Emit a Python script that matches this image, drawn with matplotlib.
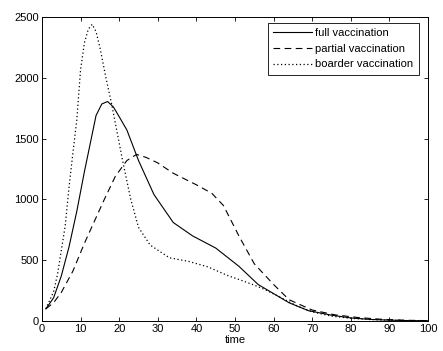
"""Epidemic curves under three vaccination strategies."""

import matplotlib.pyplot as plt

plt.rcParams["font.family"] = ["Liberation Sans", "DejaVu Sans"]

# values
full_t = [1, 3, 5, 7, 9, 11, 12.5, 14, 15.5, 17, 18.5, 20, 22, 25, 29, 34,
          39, 45, 51, 56, 60, 64, 69, 75, 80, 85, 90, 95, 100]
full_y = [100, 190, 370, 610, 900, 1230, 1460, 1690, 1785, 1805, 1760, 1680,
          1570, 1320, 1040, 810, 700, 600, 450, 300, 225, 150, 85, 48, 25, 13,
          7, 3, 2]

partial_t = [1, 3, 5, 8, 11, 13, 16, 19, 22, 24.5, 27, 30, 34, 40, 44, 47,
             51, 55, 60, 64, 70, 76, 82, 88, 94, 100]
partial_y = [100, 150, 235, 410, 640, 780, 990, 1190, 1320, 1370, 1345, 1300,
             1215, 1120, 1050, 950, 700, 470, 300, 175, 90, 50, 28, 14, 6, 3]

border_t = [1, 3, 4, 5, 6, 7, 8, 9, 10, 11, 12, 13, 14, 15, 16.5, 18, 19.5,
            21, 23, 25, 28, 33, 38, 43, 48, 52, 55, 58, 62, 66, 70, 75, 80,
            85, 90, 95, 100]
border_y = [100, 240, 380, 580, 780, 1100, 1380, 1650, 2070, 2290, 2400, 2440,
            2380, 2250, 2010, 1790, 1545, 1300, 1000, 770, 625, 520, 490, 445,
            375, 330, 295, 255, 190, 125, 75, 40, 22, 12, 7, 3, 2]

labels = ["full vaccination", "partial vaccination", "boarder vaccination"]
x_ticks = list(range(0, 101, 10))
y_ticks = list(range(0, 2501, 500))


def main():
    fig = plt.figure(figsize=(4.43, 3.51), dpi=100)
    ax = fig.add_axes([0.0948, 0.0855, 0.8714, 0.866])

    ax.plot(full_t, full_y, color="black", linestyle="-", linewidth=0.8,
            label=labels[0])
    ax.plot(partial_t, partial_y, color="black", linestyle=(0, (6, 4)),
            linewidth=0.8, label=labels[1])
    ax.plot(border_t, border_y, color="black", linestyle=(0, (1, 2)),
            linewidth=0.9, label=labels[2])

    ax.set_xlim(0, 100)
    ax.set_ylim(0, 2500)
    ax.set_xticks(x_ticks)
    ax.set_yticks(y_ticks)
    ax.tick_params(direction="in", top=True, right=True, labelsize=8,
                   length=3, width=0.6, pad=2)
    for spine in ax.spines.values():
        spine.set_linewidth(0.7)
    ax.set_xlabel("time", fontsize=8, labelpad=1)

    leg = ax.legend(loc="upper right", bbox_to_anchor=(0.9767, 0.981),
                    borderaxespad=0, fontsize=8, handlelength=3.5,
                    handletextpad=0.3, labelspacing=0.5, borderpad=0.5,
                    fancybox=False, framealpha=1)
    leg.get_frame().set_edgecolor("black")
    leg.get_frame().set_linewidth(0.6)

    fig.savefig("out.png", dpi=100)


if __name__ == "__main__":
    main()
